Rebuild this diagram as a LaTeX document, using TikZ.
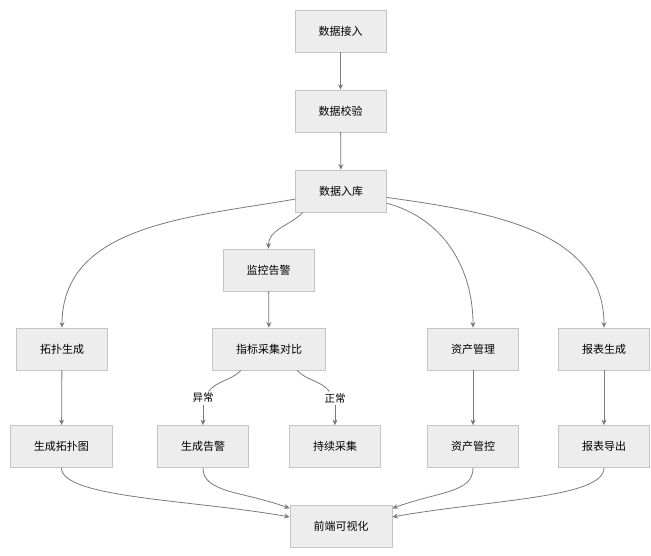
\documentclass[tikz,border=0pt]{standalone}
\usepackage{fontspec}
\setmainfont{Noto Sans CJK SC}
\usepackage{tikz}
\usetikzlibrary{arrows}
\usetikzlibrary{arrows.meta}

\definecolor{boxfill}{HTML}{EDEDED}
\definecolor{boxline}{HTML}{C4C4C4}
\definecolor{linkgray}{HTML}{7A7A7A}

\begin{document}
\begin{tikzpicture}[x=1pt,y=1pt,->,>={Stealth[length=5.5pt,width=5pt]},
                        shorten >=0pt,
                        main node/.style={rectangle,draw=boxline,fill=boxfill,line width=0.8pt,
                          minimum height=42pt,inner xsep=23.5pt,font=\fontsize{11}{13}\selectfont},
                        link/.style={draw=linkgray,line width=0.8pt},
                        tag/.style={inner sep=1.5pt,font=\fontsize{10.5}{12}\selectfont}]

        \useasboundingbox (0,0) rectangle (651,-555);

        \node[main node] (jr) at (340.5,-31) {数据接入};
        \node[main node] (jy) at (340.5,-111) {数据校验};
        \node[main node] (rk) at (341,-191) {数据入库};
        \node[main node] (jk) at (268.5,-270) {监控告警};

        \node[main node] (tp) at (62,-349) {拓扑生成};
        \node[main node] (zb) at (269,-349) {指标采集对比};
        \node[main node] (zc) at (473,-349) {资产管理};
        \node[main node] (bb) at (604,-349) {报表生成};

        \node[main node] (tpt) at (61.5,-446.5) {生成拓扑图};
        \node[main node] (gj) at (203,-446.5) {生成告警};
        \node[main node] (cx) at (335,-446.5) {持续采集};
        \node[main node] (gk) at (473,-446.5) {资产管控};
        \node[main node] (dc) at (604,-446.5) {报表导出};

        \node[main node] (qd) at (341,-526) {前端可视化};

        \node[tag] (yc) at (203,-398) {异常};
        \node[tag] (zch) at (335,-398) {正常};

        \begin{scope}[link]
            \path [->] (jr) edge (jy);
            \path [->] (jy) edge (rk);
            \path [->] (rk) edge[out=190,in=90] (tp);
            \path [->] ([xshift=-38pt]rk.south) edge[out=225,in=90] (jk);
            \path [->] (rk) edge[out=-15,in=90] (zc);
            \path [->] (rk) edge[out=-8,in=90] (bb);
            \path [->] (jk) edge (zb);

            \path [-] ([xshift=-28pt]zb.south) edge[out=-135,in=50] (yc);
            \path [-] ([xshift=28pt]zb.south) edge[out=-45,in=130] (zch);
            \path [->] (yc) edge (gj);
            \path [->] (zch) edge (cx);

            \path [->] (tp) edge (tpt);
            \path [->] (zc) edge (gk);
            \path [->] (bb) edge (dc);

            \path [->] (tpt.south) edge[out=-90,in=170,out distance=30pt,in distance=100pt] (qd.170);
            \path [->] (gj.south) edge[out=-90,in=160,out distance=25pt,in distance=50pt] (qd.161);
            \path [->] (gk.south) edge[out=-90,in=20,out distance=25pt,in distance=50pt] (qd.19);
            \path [->] (dc.south) edge[out=-90,in=10,out distance=30pt,in distance=100pt] (qd.10);
        \end{scope}
    \end{tikzpicture}
\end{document}
